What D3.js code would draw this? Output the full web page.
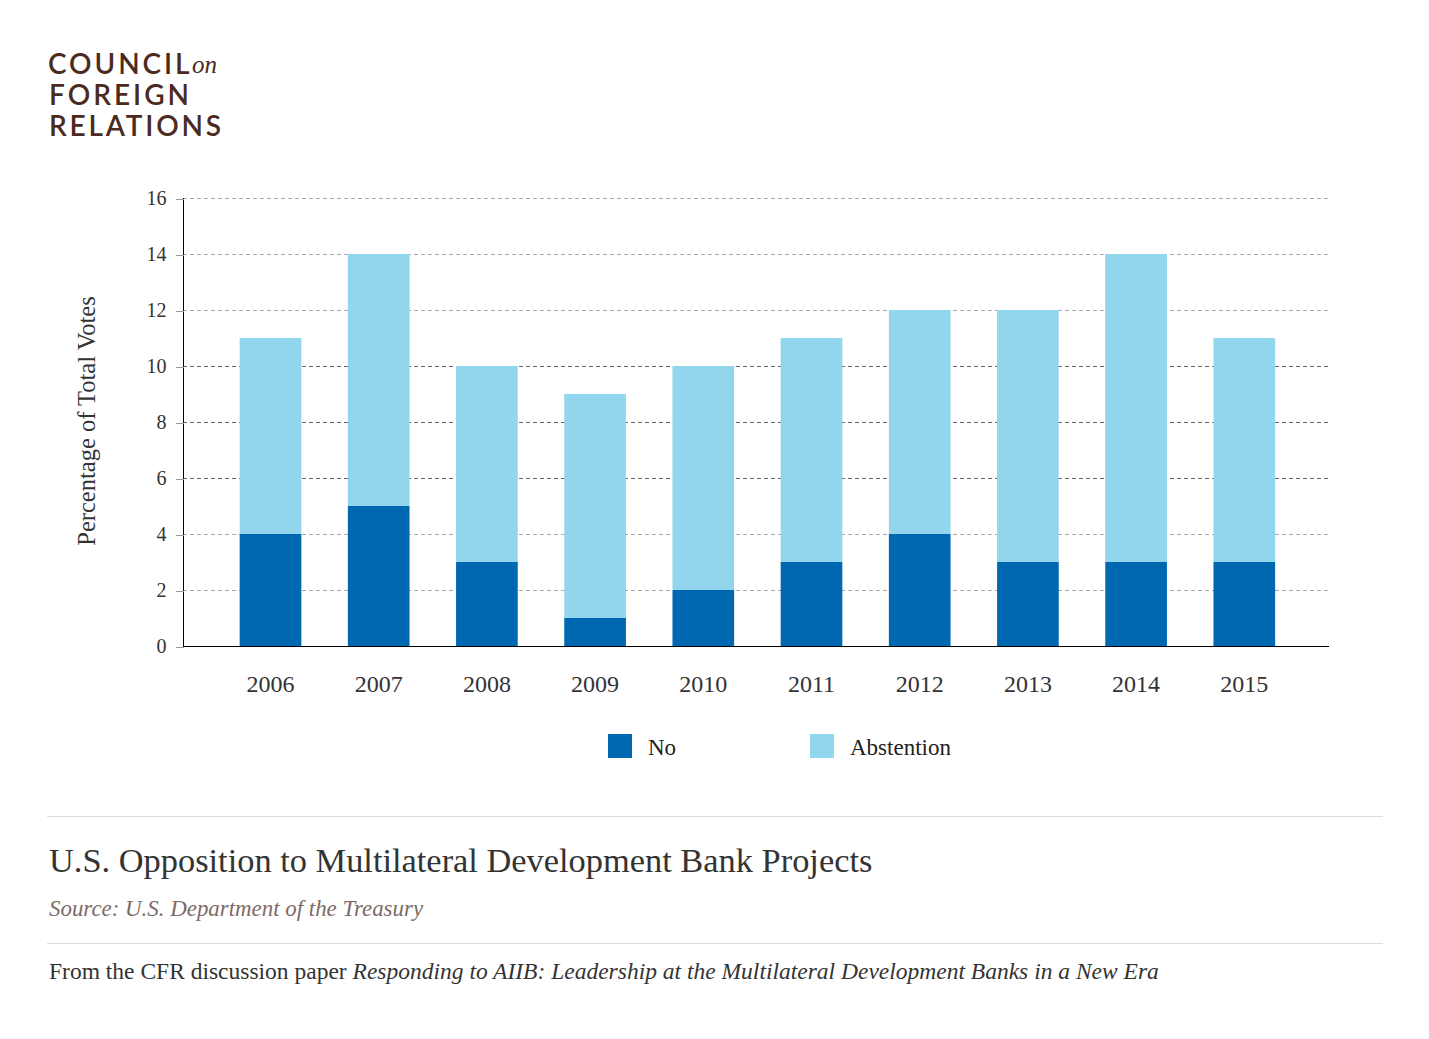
<html>
<style>
body { margin: 0; background: #fff; }
svg text { font-family: "Liberation Serif", "DejaVu Serif", serif; }
.axis path, .axis line { shape-rendering: crispEdges; }
</style>
<svg width="1429" height="1039"></svg>
<script src="https://d3js.org/d3.v7.min.js"></script>
<script>

var years = ["2006", "2007", "2008", "2009", "2010", "2011", "2012", "2013", "2014", "2015"];
var noVotes = [4, 5, 3, 1, 2, 3, 4, 3, 3, 3];
var abstentions = [7, 9, 7, 8, 8, 8, 8, 9, 11, 8];
var yTicks = [0, 2, 4, 6, 8, 10, 12, 14, 16];
var seriesNames = ["No", "Abstention"];
var colors = ["#0068b1", "#92d6ee"];

var svg = d3.select("svg");

// logo
var logo = svg.append("g").attr("fill", "#4b2a20");
var sans = "Lato, 'Open Sans', sans-serif";
logo.append("text").attr("x", 48).attr("y", 74)
    .style("font-family", sans).style("font-size", "28px").style("font-weight", "600")
    .style("letter-spacing", "2.9px").text("COUNCIL");
logo.append("text").attr("x", 192).attr("y", 73)
    .style("font-size", "25px").style("font-style", "italic").text("on");
logo.append("text").attr("x", 49).attr("y", 105)
    .style("font-family", sans).style("font-size", "28px").style("font-weight", "600")
    .style("letter-spacing", "3px").text("FOREIGN");
logo.append("text").attr("x", 49).attr("y", 136)
    .style("font-family", sans).style("font-size", "28px").style("font-weight", "600")
    .style("letter-spacing", "2.8px").text("RELATIONS");

// scales
var x = d3.scaleBand().domain(years).range([216.4, 1298.4]).paddingInner(0.43).paddingOuter(0.215);
var y = d3.scaleLinear().domain([0, 16]).range([646, 198]);

// grid
svg.append("g").selectAll("line").data(yTicks.filter(d => d > 0)).join("line")
    .attr("x1", 183).attr("x2", 1329)
    .attr("y1", d => y(d) + 0.5).attr("y2", d => y(d) + 0.5)
    .attr("stroke", d => (d >= 6 && d <= 10) ? "#666" : "#aaa")
    .attr("stroke-dasharray", "4,3");

// stacked bars
var rows = years.map((yr, i) => ({year: yr, No: noVotes[i], Abstention: abstentions[i]}));
var stack = d3.stack().keys(seriesNames)(rows);

svg.append("g").selectAll("g").data(stack).join("g")
    .attr("fill", (d, i) => colors[i])
  .selectAll("rect").data(d => d).join("rect")
    .attr("x", d => x(d.data.year))
    .attr("width", x.bandwidth())
    .attr("y", d => y(d[1]))
    .attr("height", d => y(d[0]) - y(d[1]));

// y axis
var yAxis = svg.append("g").attr("class", "axis")
    .attr("transform", "translate(183.5,0)")
    .call(d3.axisLeft(y).tickValues(yTicks).tickSize(8).tickPadding(9));
yAxis.select(".domain").attr("stroke", "#000").attr("d", "M0," + y(16) + "V" + y(0));
yAxis.selectAll(".tick line").attr("stroke", "#999").attr("transform", "translate(0,0.5)");
yAxis.selectAll(".tick text")
    .style("font-family", "'Liberation Serif', serif").style("font-size", "20px").attr("fill", "#333");

// x axis
var xAxis = svg.append("g").attr("class", "axis")
    .attr("transform", "translate(0,646.5)")
    .call(d3.axisBottom(x).tickSize(0).tickPadding(28));
xAxis.select(".domain").attr("stroke", "#000").attr("d", "M183,0H1329");
xAxis.selectAll(".tick text")
    .style("font-family", "'Liberation Serif', serif").style("font-size", "24px").attr("fill", "#333");

// y label
svg.append("text")
    .attr("transform", "translate(95,421) rotate(-90)")
    .attr("text-anchor", "middle")
    .style("font-size", "24.5px").attr("fill", "#333")
    .text("Percentage of Total Votes");

// legend
var legendX = [608, 810];
var legend = svg.append("g").selectAll("g").data(seriesNames).join("g")
    .attr("transform", (d, i) => "translate(" + legendX[i] + ",734)");
legend.append("rect").attr("width", 24).attr("height", 24).attr("fill", (d, i) => colors[i]);
legend.append("text").attr("x", 40).attr("y", 21)
    .style("font-size", "23px").attr("fill", "#222").text(d => d);

// separators
svg.selectAll("line.sep").data([816.5, 943.5]).join("line").attr("class", "sep")
    .attr("x1", 47).attr("x2", 1383).attr("y1", d => d).attr("y2", d => d)
    .attr("stroke", "#ddd");

// title block
svg.append("text").attr("x", 49).attr("y", 872)
    .style("font-size", "34.4px").attr("fill", "#333")
    .text("U.S. Opposition to Multilateral Development Bank Projects");
svg.append("text").attr("x", 49).attr("y", 916)
    .style("font-size", "22.9px").style("font-style", "italic").attr("fill", "#7d6b66")
    .text("Source: U.S. Department of the Treasury");
var foot = svg.append("text").attr("x", 49).attr("y", 979)
    .style("font-size", "23.5px").attr("fill", "#333");
foot.append("tspan").text("From the CFR discussion paper ");
foot.append("tspan").style("font-style", "italic")
    .text("Responding to AIIB: Leadership at the Multilateral Development Banks in a New Era");

</script>
</html>
